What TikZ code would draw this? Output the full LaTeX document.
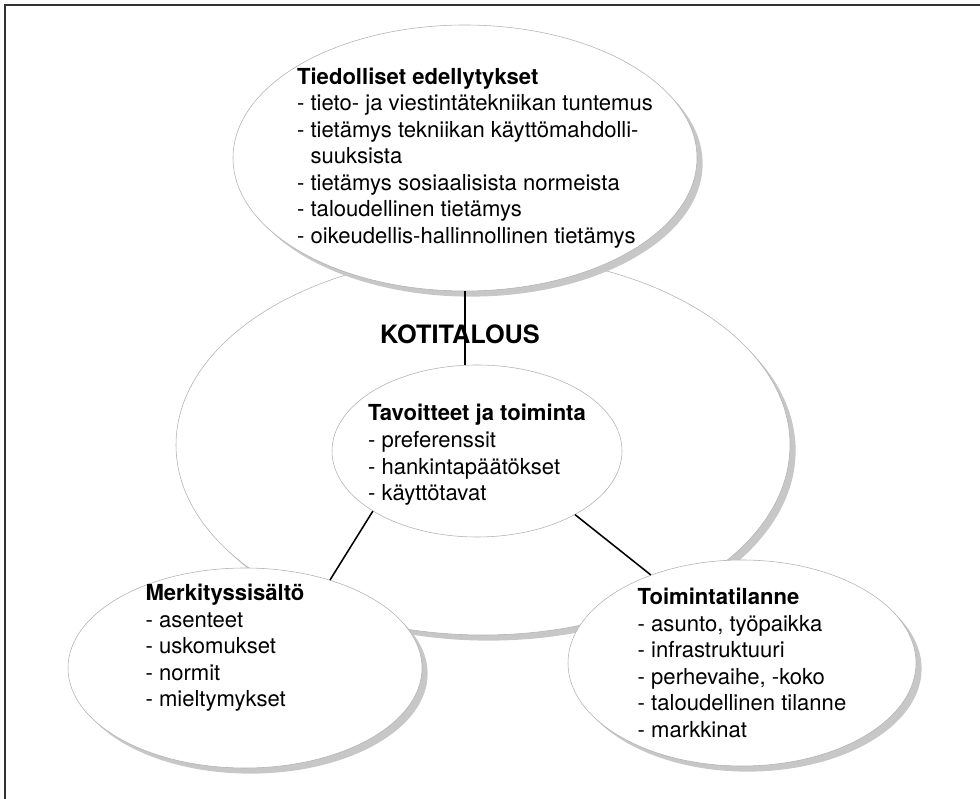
\documentclass[tikz,border=0pt]{standalone}
\usepackage{fontspec}
\setmainfont{TeX Gyre Heros}
\usepackage{tikz}
\usetikzlibrary{shapes.geometric,shadows}

\begin{document}
\begin{tikzpicture}[
    bubble/.style={ellipse, draw=black!30, line width=0.4pt, fill=white, inner sep=0pt,
                   drop shadow={shadow xshift=4pt, shadow yshift=-4pt, fill=black!22, opacity=1}},
    flat/.style={ellipse, draw=black!30, line width=0.4pt, fill=white, inner sep=0pt},
    txt/.style={align=left, inner sep=0pt, font=\fontsize{15.7}{18.9}\selectfont},
    link/.style={draw=black, line width=1.1pt}]
\useasboundingbox (0,0) rectangle (24.5,19.975);
\draw[black!80, line width=1pt] (0.125,0) -- (0.125,19.85) -- (24.5,19.85);

\node[bubble, minimum width=15.35cm, minimum height=9.5cm] (house) at (12.075,8.85) {};
\node[bubble, minimum width=11.6cm, minimum height=6.65cm] (know) at (11.625,16.025) {};
\node[flat, minimum width=7.25cm, minimum height=4.3cm] (goals) at (11.925,8.7) {};
\node[bubble, minimum width=8.85cm, minimum height=5.0cm] (meaning) at (6.125,3.275) {};
\node[bubble, minimum width=8.7cm, minimum height=5.15cm] (situation) at (18.55,3.4) {};

\node[font=\fontsize{18}{20}\selectfont\bfseries, inner sep=0pt] (housetitle) at (11.5,11.62) {KOTITALOUS};
\node[txt] (knowtext) at ([xshift=0.25cm]know.center) {\textbf{Tiedolliset edellytykset}\\
  - tieto- ja viestintätekniikan tuntemus\\
  - tietämys tekniikan käyttömahdolli-\\
  \hphantom{- }suuksista\\
  - tietämys sosiaalisista normeista\\
  - taloudellinen tietämys\\
  - oikeudellis-hallinnollinen tietämys};
\node[txt] (goalstext) at ([yshift=-0.1cm]goals.center) {\textbf{Tavoitteet ja toiminta}\\
  - preferenssit\\
  - hankintapäätökset\\
  - käyttötavat};
\node[txt] (meaningtext) at ([shift={(-0.5,0.5)}]meaning.center) {\textbf{Merkityssisältö}\\
  - asenteet\\
  - uskomukset\\
  - normit\\
  - mieltymykset};
\node[txt] (situationtext) at (situation) {\textbf{Toimintatilanne}\\
  - asunto, työpaikka\\
  - infrastruktuuri\\
  - perhevaihe, -koko\\
  - taloudellinen tilanne\\
  - markkinat};

\draw[link] (know.south) -- (know.south |- goals.north);
\draw[link] (goals.210) -- (meaning.46);
\draw[link] (goals.-33) -- (situation.136);
\end{tikzpicture}
\end{document}
